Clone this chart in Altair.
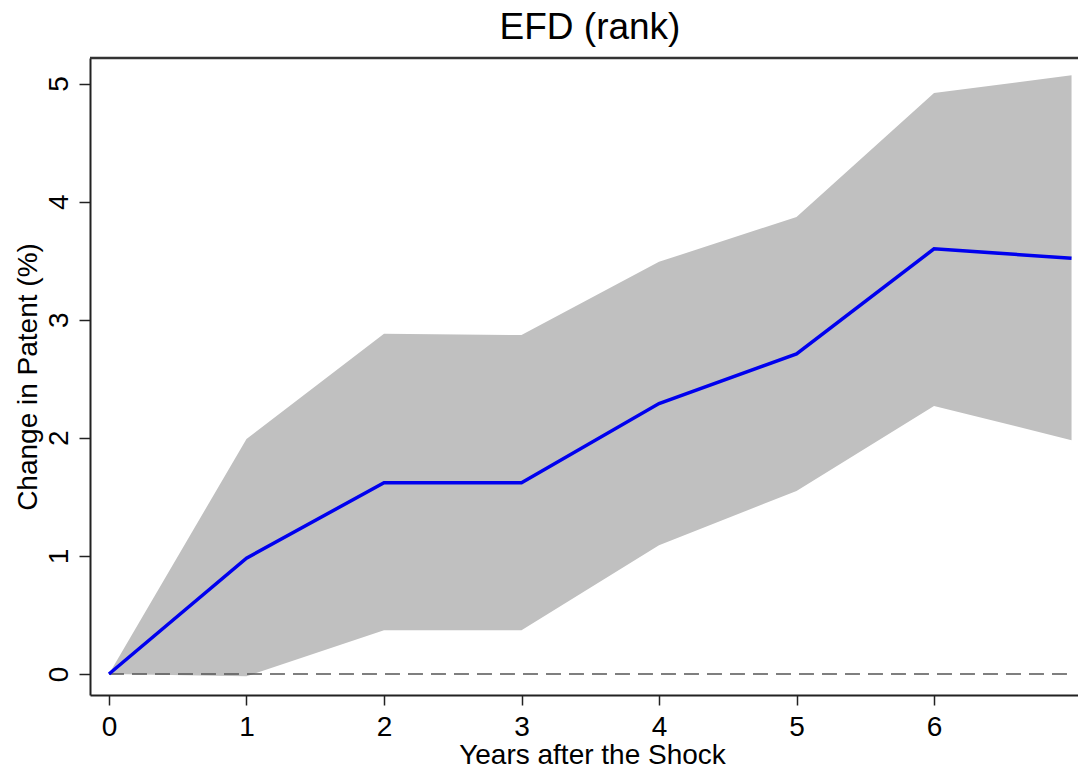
import altair as alt
import pandas as pd

years = [0, 1, 2, 3, 4, 5, 6, 7]
estimate = [0.0, 0.98, 1.62, 1.62, 2.29, 2.71, 3.60, 3.52]
ci_upper = [0.0, 1.99, 2.88, 2.87, 3.49, 3.87, 4.92, 5.07]
ci_lower = [0.0, -0.02, 0.37, 0.37, 1.09, 1.55, 2.27, 1.98]
x_ticks = [0, 1, 2, 3, 4, 5, 6]
y_ticks = [0, 1, 2, 3, 4, 5]

df = pd.DataFrame({"year": years, "est": estimate, "hi": ci_upper, "lo": ci_lower})
zero = pd.DataFrame({"y": [0.0], "x0": [years[0]], "x1": [years[-1]]})

W, H = 988, 637
FONT = "Liberation Sans"

xs = alt.Scale(domain=[-0.138, 7.047], nice=False, zero=False)
ys = alt.Scale(domain=[-0.178, 5.216], nice=False, zero=False)

xaxis = alt.Axis(values=x_ticks, format="d", title="Years after the Shock", grid=False,
                 domainColor="#222222", domainWidth=2, tickColor="#222222",
                 tickWidth=1.5, tickSize=10, labelFontSize=28, labelFont=FONT,
                 labelColor="black", labelPadding=8, labelFlush=False,
                 titleFont=FONT, titleFontSize=28, titleFontWeight="normal",
                 titleColor="black", titleX=502, titleY=68,
                 titleBaseline="alphabetic", titleAlign="center")
yaxis = alt.Axis(values=y_ticks, format="d", title="Change in Patent (%)", grid=False,
                 domainColor="#222222", domainWidth=2, tickColor="#222222",
                 tickWidth=1.5, tickSize=11, labelFontSize=28, labelFont=FONT,
                 labelColor="black", labelAngle=270, labelAlign="center",
                 labelBaseline="alphabetic", labelPadding=12, labelFlush=False,
                 titleFont=FONT, titleFontSize=28, titleFontWeight="normal",
                 titleColor="black", titleAngle=270, titleX=-54, titleY=318.5,
                 titleBaseline="alphabetic", titleAlign="center")

band = alt.Chart(df).mark_area(color="#c0c0c0", opacity=1).encode(
    x=alt.X("year:Q", scale=xs, axis=xaxis),
    y=alt.Y("hi:Q", scale=ys, axis=yaxis),
    y2="lo:Q",
)

zline = alt.Chart(zero).mark_rule(color="#555555", strokeWidth=1.6,
                                  strokeDash=[15, 8]).encode(
    x=alt.X("x0:Q", scale=xs), x2="x1:Q", y=alt.Y("y:Q", scale=ys)
)

line = alt.Chart(df).mark_line(color="#0000ee", strokeWidth=3.5).encode(
    x=alt.X("year:Q", scale=xs), y=alt.Y("est:Q", scale=ys)
)

top = alt.Chart(zero).mark_rule(color="#333333", strokeWidth=2.5).encode(
    x=alt.value(0), x2=alt.value(W), y=alt.value(0)
)

chart = alt.layer(band, zline, line, top).properties(
    width=W, height=H,
    title=alt.Title("EFD (rank)", fontSize=37, font=FONT, fontWeight="normal",
                    color="black", anchor="middle", baseline="alphabetic",
                    offset=17, dx=6, dy=36),
    autosize=alt.AutoSizeParams(type="none"),
    padding={"left": 90, "top": 58, "right": 0, "bottom": 73},
    background="white",
).configure_view(stroke=None)

chart.save("out.html", embed_options={"renderer": "svg", "actions": False})
